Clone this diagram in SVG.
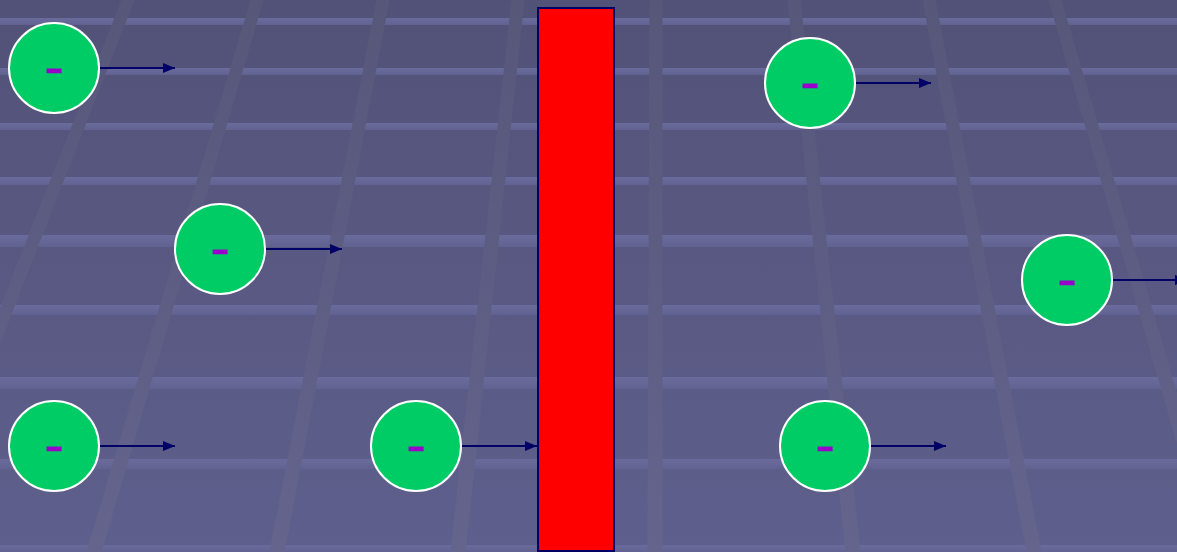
<svg xmlns="http://www.w3.org/2000/svg" width="1177" height="552" viewBox="0 0 1177 552">
  <defs>
    <linearGradient id="bg" x1="0" y1="0" x2="0" y2="552" gradientUnits="userSpaceOnUse">
      <stop offset="0" stop-color="#525278"/>
      <stop offset="1" stop-color="#5f5f8d"/>
    </linearGradient>
    <linearGradient id="vl" x1="0" y1="0" x2="0" y2="552" gradientUnits="userSpaceOnUse">
      <stop offset="0" stop-color="#57577a"/>
      <stop offset="1" stop-color="#64648d"/>
    </linearGradient>
    <linearGradient id="band" x1="0" y1="0" x2="0" y2="1">
      <stop offset="0" stop-color="#6a6a9c"/>
      <stop offset="1" stop-color="#626292"/>
    </linearGradient>
    <marker id="arr" markerUnits="userSpaceOnUse" markerWidth="12" markerHeight="10" refX="12" refY="5" orient="auto">
      <path d="M0,0 L12,5 L0,10 z" fill="#000066"/>
    </marker>
    <style>
      .band { fill: url(#band); }
      .vline { fill: url(#vl); }
      .ball { fill: #00cc66; stroke: #ffffff; stroke-width: 2; }
      .minus { font-family: "Liberation Serif", serif; font-size: 56px; fill: #9900cc; stroke: #9900cc; stroke-width: 0.3; text-anchor: middle; }
      .conn { stroke: #000066; stroke-width: 2; fill: none; marker-end: url(#arr); }
    </style>
  </defs>

  <g id="background">
    <rect x="0" y="0" width="1177" height="552" fill="url(#bg)"/>
    <rect class="band" x="0" y="18" width="1177" height="7"/>
    <rect class="band" x="0" y="68" width="1177" height="7"/>
    <rect class="band" x="0" y="123" width="1177" height="7"/>
    <rect class="band" x="0" y="177" width="1177" height="8"/>
    <rect class="band" x="0" y="235" width="1177" height="12"/>
    <rect class="band" x="0" y="305" width="1177" height="10"/>
    <rect class="band" x="0" y="377" width="1177" height="12"/>
    <rect class="band" x="0" y="459" width="1177" height="10"/>
    <rect class="band" x="0" y="545" width="1177" height="7"/>
    <polygon class="vline" points="121.5,0 134.5,0 -81.5,552 -96.5,552"/>
    <polygon class="vline" points="250.5,0 263.5,0 101.5,552 86.5,552"/>
    <polygon class="vline" points="376.5,0 389.5,0 284.5,552 269.5,552"/>
    <polygon class="vline" points="511.5,0 524.5,0 465.5,552 450.5,552"/>
    <polygon class="vline" points="649.5,0 662.5,0 662.5,552 647.5,552"/>
    <polygon class="vline" points="787.5,0 800.5,0 860.5,552 845.5,552"/>
    <polygon class="vline" points="922.5,0 935.5,0 1041.5,552 1026.5,552"/>
    <polygon class="vline" points="1048.5,0 1061.5,0 1223.5,552 1208.5,552"/>
    <polygon class="vline" points="1177.5,0 1190.5,0 1407.5,552 1392.5,552"/>
  </g>

  <g id="barrier">
    <rect x="538" y="8" width="76" height="543" fill="#ff0000" stroke="#000066" stroke-width="2"/>
  </g>

  <g id="connectors">
    <line class="conn" x1="99" y1="68" x2="175" y2="68"/>
    <line class="conn" x1="265" y1="249" x2="342" y2="249"/>
    <line class="conn" x1="99" y1="446" x2="175" y2="446"/>
    <line class="conn" x1="461" y1="446" x2="537" y2="446"/>
    <line class="conn" x1="855" y1="83" x2="931" y2="83"/>
    <line class="conn" x1="1112" y1="280" x2="1187" y2="280"/>
    <line class="conn" x1="870" y1="446" x2="946" y2="446"/>
  </g>

  <g id="electron1">
    <circle class="ball" cx="54" cy="68" r="45"/>
    <text class="minus" x="54" y="84">-</text>
  </g>
  <g id="electron2">
    <circle class="ball" cx="220" cy="249" r="45"/>
    <text class="minus" x="220" y="265">-</text>
  </g>
  <g id="electron3">
    <circle class="ball" cx="54" cy="446" r="45"/>
    <text class="minus" x="54" y="462">-</text>
  </g>
  <g id="electron4">
    <circle class="ball" cx="416" cy="446" r="45"/>
    <text class="minus" x="416" y="462">-</text>
  </g>
  <g id="electron5">
    <circle class="ball" cx="810" cy="83" r="45"/>
    <text class="minus" x="810" y="99">-</text>
  </g>
  <g id="electron6">
    <circle class="ball" cx="1067" cy="280" r="45"/>
    <text class="minus" x="1067" y="296">-</text>
  </g>
  <g id="electron7">
    <circle class="ball" cx="825" cy="446" r="45"/>
    <text class="minus" x="825" y="462">-</text>
  </g>
</svg>
